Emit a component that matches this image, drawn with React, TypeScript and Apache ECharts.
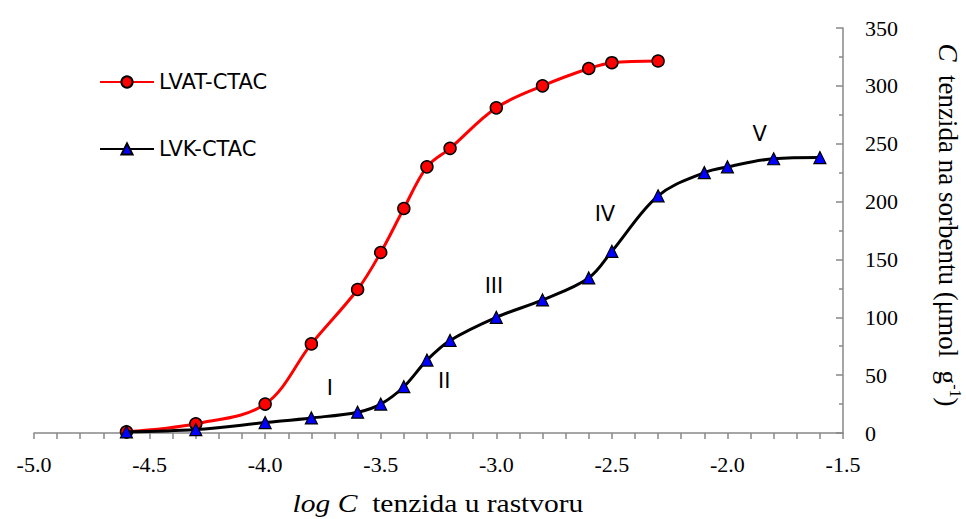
import React, { useEffect, useRef } from "react";
import * as echarts from "echarts";

const lvatX = [-4.6, -4.3, -4.0, -3.8, -3.6, -3.5, -3.4, -3.3, -3.2, -3.0, -2.8, -2.6, -2.5, -2.3];
const lvatY = [1, 8, 25, 77, 124, 156, 194, 230, 246, 281, 300, 315, 320, 321.5];
const lvkX = [-4.6, -4.3, -4.0, -3.8, -3.6, -3.5, -3.4, -3.3, -3.2, -3.0, -2.8, -2.6, -2.5, -2.3, -2.1, -2.0, -1.8, -1.6];
const lvkY = [1, 3, 9, 13, 18, 25, 40, 63, 80, 100, 115, 134, 157, 205, 225, 230, 237, 238];
const regionNames = ["I", "II", "III", "IV", "V"];
const regionX = [-3.72, -3.225, -3.01, -2.53, -1.86];
const regionY = [39, 45, 127, 189, 258];
const seriesNames = ["LVAT-CTAC", "LVK-CTAC"];

const serif = "Liberation Serif";
const sans = "DejaVu Sans";

export default function App() {
  const ref = useRef<HTMLDivElement>(null);
  useEffect(() => {
    if (!ref.current) return;
    const chart = echarts.init(ref.current, undefined, { renderer: "svg" });
    chart.setOption({
      animation: false,
      backgroundColor: "#fff",
      grid: { left: 34, right: 123, top: 28, bottom: 86, containLabel: false },
      legend: {
        data: seriesNames,
        orient: "vertical",
        left: 99,
        top: 71,
        padding: 0,
        itemWidth: 54,
        itemHeight: 14,
        itemGap: 45,
        textStyle: { fontFamily: sans, fontSize: 21, lineHeight: 22, color: "#000" },
      },
      xAxis: {
        type: "value",
        min: -5,
        max: -1.5,
        interval: 0.5,
        splitLine: { show: false },
        axisLine: { show: true, onZero: false, lineStyle: { color: "#888", width: 1.5 } },
        axisTick: { show: true, inside: false, length: 6, lineStyle: { color: "#888", width: 1.5 } },
        minorTick: { show: true, splitNumber: 5, length: 6, lineStyle: { color: "#888", width: 1.5 } },
        axisLabel: {
          color: "#000",
          fontFamily: serif,
          fontSize: 22,
          margin: 20,
          formatter: (v: number) => v.toFixed(1),
        },
      },
      yAxis: {
        type: "value",
        position: "right",
        min: 0,
        max: 350,
        interval: 50,
        splitLine: { show: false },
        axisLine: { show: true, lineStyle: { color: "#888", width: 1.5 } },
        axisTick: { show: true, inside: true, length: 7, lineStyle: { color: "#888", width: 1.5 } },
        minorTick: { show: true, splitNumber: 2, length: 4, lineStyle: { color: "#888", width: 1.5 } },
        axisLabel: { color: "#000", fontFamily: serif, fontSize: 22, margin: 22 },
      },
      graphic: [
        {
          type: "text",
          x: 438,
          y: 504,
          scaleX: 1.18,
          style: {
            text: "{i|log C}{n|  tenzida u rastvoru}",
            align: "center",
            verticalAlign: "middle",
            rich: {
              i: { fontFamily: serif, fontSize: 25, fontStyle: "italic", fill: "#000" },
              n: { fontFamily: serif, fontSize: 25, fill: "#000" },
            },
          },
        },
        {
          type: "text",
          x: 949,
          y: 225,
          rotation: -Math.PI / 2,
          scaleY: 1.05,
          style: {
            text: "{i|C}{n|  tenzida na sorbentu (μmol  g}{s|-1}{n|)}",
            align: "center",
            verticalAlign: "middle",
            rich: {
              i: { fontFamily: serif, fontSize: 27, fontStyle: "italic", fill: "#000", lineHeight: 28 },
              n: { fontFamily: serif, fontSize: 27, fill: "#000", lineHeight: 28 },
              s: { fontFamily: serif, fontSize: 16, fill: "#000", verticalAlign: "top", lineHeight: 28 },
            },
          },
        },
      ],
      series: [
        {
          name: seriesNames[0],
          type: "line",
          smooth: 0.35,
          data: lvatX.map((x, i) => [x, lvatY[i]]),
          symbol: "circle",
          symbolSize: 12,
          lineStyle: { color: "#ff0000", width: 3 },
          itemStyle: { color: "#ff0000", borderColor: "#000", borderWidth: 1.5 },
          z: 2,
        },
        {
          name: seriesNames[1],
          type: "line",
          smooth: 0.35,
          data: lvkX.map((x, i) => [x, lvkY[i]]),
          symbol: "triangle",
          symbolSize: 12,
          lineStyle: { color: "#000", width: 3 },
          itemStyle: { color: "#0000ff", borderColor: "#000", borderWidth: 1.2 },
          z: 3,
          markPoint: {
            symbol: "circle",
            symbolSize: 1,
            itemStyle: { color: "rgba(0,0,0,0)", borderWidth: 0 },
            label: {
              show: true,
              position: "inside",
              formatter: "{b}",
              fontFamily: sans,
              fontSize: 21,
              color: "#000",
            },
            data: regionNames.map((n, i) => ({ name: n, coord: [regionX[i], regionY[i]] })),
          },
        },
      ],
    });
    return () => chart.dispose();
  }, []);
  return <div ref={ref} style={{ width: 966, height: 519, position: "absolute", left: 0, top: 0 }} />;
}
